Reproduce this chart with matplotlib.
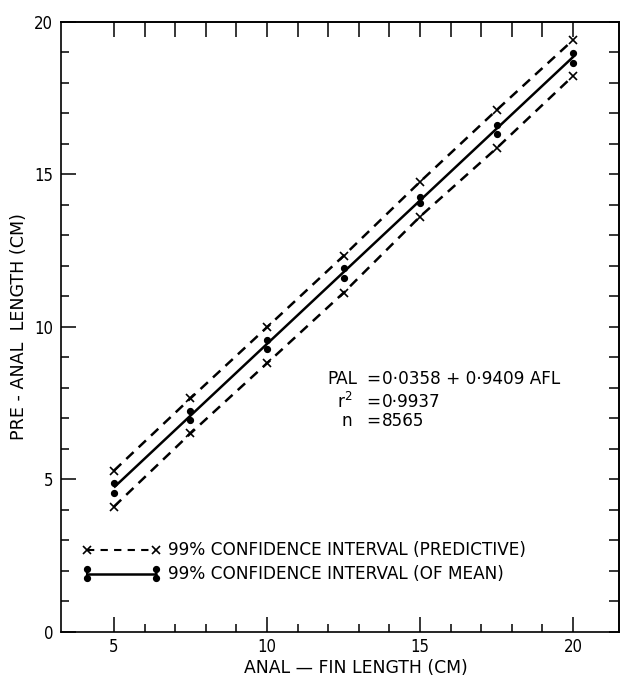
import matplotlib
matplotlib.use('Agg')
import matplotlib.pyplot as plt
from matplotlib.ticker import FixedLocator, NullFormatter

# ---- data ----
x_pts = [5, 7.5, 10, 12.5, 15, 17.5, 20]
mean_upper = [4.88, 7.26, 9.57, 11.92, 14.27, 16.62, 18.99]
mean_lower = [4.55, 6.95, 9.27, 11.60, 14.06, 16.33, 18.67]
pred_upper = [5.29, 7.66, 9.99, 12.33, 14.76, 17.11, 19.41]
pred_lower = [4.11, 6.51, 8.81, 11.12, 13.62, 15.86, 18.23]
fit_x = [5, 20.05]
fit_y = [4.74, 18.90]

x_major = [5, 10, 15, 20]
x_minor = list(range(5, 21))
y_major = [0, 5, 10, 15, 20]
y_minor = list(range(0, 21))

eq_labels = ["PAL", "r$^2$", "n"]
eq_values = ["0\u00b70358 + 0\u00b79409 AFL", "0\u00b79937", "8565"]
legend_texts = ["99% CONFIDENCE INTERVAL (PREDICTIVE)", "99% CONFIDENCE INTERVAL (OF MEAN)"]

plt.rcParams['font.family'] = ['DejaVu Sans']
plt.rcParams['mathtext.fontset'] = 'dejavusans'
fs = 12.2

fig = plt.figure(figsize=(6.21, 6.76), dpi=100)
ax = fig.add_axes([0.0982, 0.0651, 0.8986, 0.9024])
ax.set_xlim(3.27, 21.5)
ax.set_ylim(0, 20)

lw = 1.8
dash = (0, (4, 2.8))
# regression line
ax.plot(fit_x, fit_y, color='black', lw=lw, solid_capstyle='butt')
# predictive CI
ax.plot(x_pts, pred_upper, color='black', lw=lw, ls=dash)
ax.plot(x_pts, pred_lower, color='black', lw=lw, ls=dash)
ax.plot(x_pts, pred_upper, ls='none', marker='x', ms=5.5, mew=1.2, color='black')
ax.plot(x_pts, pred_lower, ls='none', marker='x', ms=5.5, mew=1.2, color='black')
# CI of mean
ax.plot(x_pts, mean_upper, ls='none', marker='o', ms=4.2, color='black')
ax.plot(x_pts, mean_lower, ls='none', marker='o', ms=4.2, color='black')

# ---- legend drawn manually ----
lx = [4.12, 6.36]
ax.plot(lx, [2.68, 2.68], color='black', lw=1.5, ls=(0, (3.5, 3)))
ax.plot(lx, [2.68, 2.68], ls='none', marker='x', ms=5.5, mew=1.2, color='black')
ax.plot(lx, [1.91, 1.91], color='black', lw=lw)
for xx in lx:
    ax.plot([xx, xx], [1.77, 2.05], color='black', lw=1.5)
    ax.plot([xx, xx], [1.77, 2.05], ls='none', marker='o', ms=4.2, color='black')
ax.text(6.75, 2.68, legend_texts[0], fontsize=fs, va='center', ha='left')
ax.text(6.75, 1.91, legend_texts[1], fontsize=fs, va='center', ha='left')

# ---- equation block ----
eq_y = [8.30, 7.54, 6.92]
eq_x = [11.96, 12.29, 12.45]
for lab, val, yy, xx in zip(eq_labels, eq_values, eq_y, eq_x):
    ax.text(xx, yy, lab, fontsize=fs, va='center', ha='left')
    ax.text(13.46, yy, "=", fontsize=fs, va='center', ha='center')
    ax.text(13.75, yy, val, fontsize=fs, va='center', ha='left')

# ---- ticks ----
ax.xaxis.set_major_locator(FixedLocator(x_major))
ax.xaxis.set_minor_locator(FixedLocator(x_minor))
ax.yaxis.set_major_locator(FixedLocator(y_major))
ax.yaxis.set_minor_locator(FixedLocator(y_minor))
ax.tick_params(which='major', direction='in', length=11, width=1.1,
               labelsize=12, top=False, right=False)
ax.tick_params(which='minor', direction='in', length=5.8, width=1.1,
               top=False, right=False)
ax.tick_params(axis='x', which='major', pad=4)
ax.tick_params(axis='y', which='major', pad=5.5)
for lbl in ax.get_xticklabels() + ax.get_yticklabels():
    lbl.set_fontstretch('condensed')

secx = ax.secondary_xaxis('top')
secx.xaxis.set_major_locator(FixedLocator(x_minor))
secx.xaxis.set_major_formatter(NullFormatter())
secx.tick_params(direction='in', length=11, width=1.1)
secx.spines['top'].set_linewidth(1.2)

secy = ax.secondary_yaxis('right')
secy.yaxis.set_major_locator(FixedLocator(y_minor))
secy.yaxis.set_major_formatter(NullFormatter())
secy.tick_params(direction='in', length=7, width=1.1)
secy.spines['right'].set_linewidth(1.2)

for s in ax.spines.values():
    s.set_linewidth(1.2)

ax.set_xlabel("ANAL \u2014 FIN LENGTH (CM)", fontsize=12.4)
ax.xaxis.set_label_coords(0.528, -0.045)
ax.xaxis.label.set_va('top')
ax.set_ylabel("PRE - ANAL  LENGTH (CM)", fontsize=12.6)
ax.yaxis.set_label_coords(-0.059, 0.5)

fig.savefig('out.png', dpi=100)
